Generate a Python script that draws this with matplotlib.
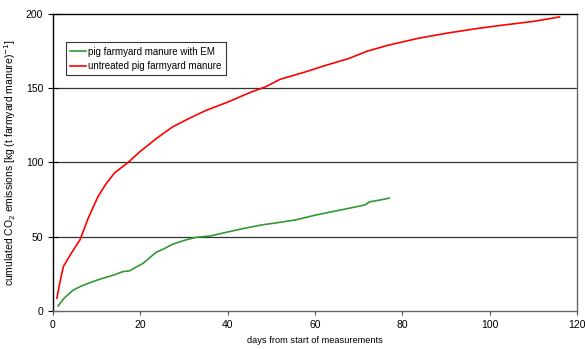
import matplotlib.pyplot as plt

plt.rcParams['font.family'] = ['Liberation Sans', 'DejaVu Sans']

# --- data ---
days_em = [1.2, 2.5, 4.6, 6.5, 8.4, 10.3, 12.2, 14.0, 16.0, 17.5, 19.0, 20.6,
           22.0, 23.6, 25.5, 27.4, 30.0, 32.7, 36.0, 40.3, 44.0, 47.9, 51.5,
           55.5, 60.0, 65.0, 70.0, 71.5, 72.5, 75.0, 77.0]
co2_em = [3.4, 8.5, 14.0, 16.8, 19.0, 21.0, 22.7, 24.3, 26.5, 27.0, 29.5, 32.0,
          35.5, 39.5, 42.0, 45.0, 47.5, 49.6, 50.5, 53.4, 55.8, 58.0, 59.5,
          61.3, 64.5, 67.5, 70.5, 71.5, 73.5, 74.8, 76.0]

days_raw = [0.9, 1.5, 2.0, 2.4, 4.0, 6.2, 8.0, 10.3, 12.0, 14.1, 17.2, 19.8,
            23.6, 27.4, 31.2, 35.0, 40.3, 45.0, 48.7, 52.0, 57.8, 62.0, 67.7,
            72.0, 76.8, 83.6, 90.0, 97.3, 103.0, 110.0, 116.0]
co2_raw = [8.7, 18.0, 25.0, 30.0, 38.0, 48.0, 62.0, 77.0, 85.0, 93.0, 100.0,
           107.0, 116.0, 124.0, 129.7, 135.0, 141.0, 147.0, 151.0, 156.0,
           161.0, 165.0, 170.0, 175.0, 179.0, 183.6, 187.0, 190.3, 192.5,
           195.0, 198.0]

x_ticks = [0, 20, 40, 60, 80, 100, 120]
y_ticks = [0, 50, 100, 150, 200]

fig = plt.figure(figsize=(5.86, 3.49), dpi=100)
ax = fig.add_axes([0.0904, 0.1089, 0.8942, 0.851])

ax.plot(days_em, co2_em, color='#339933', lw=1.2, label='pig farmyard manure with EM')
ax.plot(days_raw, co2_raw, color='#ff0000', lw=1.2, label='untreated pig farmyard manure')

for yv in y_ticks[1:-1]:
    ax.axhline(yv, color='#333333', lw=0.9, zorder=0)

ax.set_xlim(0, 120)
ax.set_ylim(0, 200)
ax.set_xticks(x_ticks)
ax.set_yticks(y_ticks)
ax.tick_params(axis='x', direction='out', length=3, labelsize=7.5, color='#555555')
ax.tick_params(axis='y', direction='inout', length=7, labelsize=7.5)

ax.spines['left'].set_color('black')
ax.spines['top'].set_color('black')
ax.spines['bottom'].set_color('#666666')
ax.spines['right'].set_color('#666666')
for s in ax.spines.values():
    s.set_linewidth(1.0)

ax.set_xlabel('days from start of measurements', fontsize=6.7, labelpad=4)
ax.set_ylabel(r'cumulated CO$_2$ emissions [kg (t farmyard manure)$^{-1}$]',
              fontsize=7.5, labelpad=6)

leg = ax.legend(loc='upper left', bbox_to_anchor=(0.025, 0.905), fontsize=7,
                frameon=True, fancybox=False, edgecolor='black', handlelength=1.6,
                handletextpad=0.2, borderpad=0.45, labelspacing=0.45, borderaxespad=0)
leg.get_frame().set_linewidth(0.8)

fig.savefig('out.png', dpi=100)
